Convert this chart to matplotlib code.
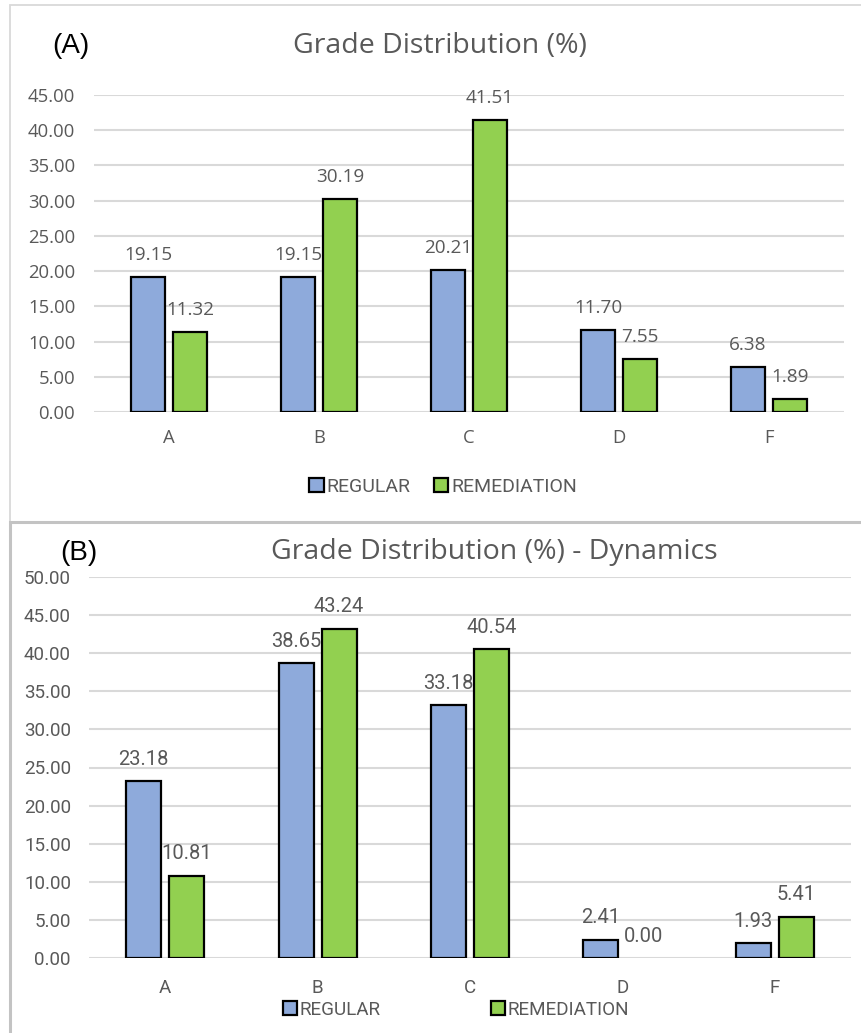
import matplotlib
matplotlib.use("Agg")
import matplotlib.pyplot as plt
from matplotlib import font_manager
from matplotlib.patches import Patch, Rectangle
import numpy as np

grades = ["A", "B", "C", "D", "F"]
regular_all = [19.15, 19.15, 20.21, 11.70, 6.38]
remedial_all = [11.32, 30.19, 41.51, 7.55, 1.89]
regular_dyn = [23.18, 38.65, 33.18, 2.41, 1.93]
remedial_dyn = [10.81, 43.24, 40.54, 0.00, 5.41]

BLUE = "#8eaadb"
GREEN = "#92d050"
GREY_TXT = "#595959"
GRID = "#d9d9d9"

W, H = 861, 1033
installed = {f.name for f in font_manager.fontManager.ttflist}
main_font = "Open Sans" if "Open Sans" in installed else "DejaVu Sans"
narrow_font = "Roboto" if "Roboto" in installed else main_font

fig = plt.figure(figsize=(W / 100, H / 100), dpi=100)
fig.patch.set_facecolor("white")


def box(x0, y0, x1, y1):
    # pixel box (top-left origin) -> figure fraction [left, bottom, width, height]
    return [x0 / W, 1 - y1 / H, (x1 - x0) / W, (y1 - y0) / H]


# panel frames
fig.add_artist(Rectangle((10 / W, 1 - 522 / H), 1.0, 517 / H, transform=fig.transFigure,
                         fill=False, edgecolor="#d9d9d9", linewidth=1.3))
fig.add_artist(Rectangle((10 / W, -0.1), 1.0, 1 - 522 / H + 0.1, transform=fig.transFigure,
                         fill=False, edgecolor="#c3c3c3", linewidth=2.2))


def draw_panel(ax, reg, rem, ymax, width, shift, font, tick_size, label_size):
    x = np.arange(len(grades))
    ax.set_axisbelow(True)
    b1 = ax.bar(x - shift, reg, width, color=BLUE, edgecolor="black", linewidth=1.6)
    b2 = ax.bar(x + shift, rem, width, color=GREEN, edgecolor="black", linewidth=1.6)
    for bars in (b1, b2):
        for bar in bars:
            v = bar.get_height()
            if v == 0:
                bar.set_edgecolor("none")
            ax.annotate(f"{v:.2f}", (bar.get_x() + bar.get_width() / 2, v),
                        xytext=(0, 22), textcoords="offset pixels",
                        ha="center", va="center", color=GREY_TXT,
                        fontsize=label_size, family=font)
    ax.set_xlim(-0.5, len(grades) - 0.5)
    ax.set_ylim(0, ymax)
    ticks = np.arange(0, ymax + 0.1, 5)
    ax.set_yticks(ticks)
    ax.set_yticklabels([f"{t:.2f}" for t in ticks],
                       family=font, fontsize=tick_size, color=GREY_TXT)
    ax.set_xticks(x)
    ax.set_xticklabels(grades, family=font, fontsize=tick_size, color=GREY_TXT)
    ax.yaxis.grid(True, color=GRID, linewidth=1.5)
    for s in ax.spines.values():
        s.set_visible(False)
    ax.tick_params(length=0)
    return b1, b2


# (A) all sections
ax1 = fig.add_axes(box(94, 95, 844, 412))
draw_panel(ax1, regular_all, remedial_all, 45, 0.227, 0.14, main_font, 13.3, 13.6)
ax1.tick_params(axis="y", pad=13.5)
ax1.tick_params(axis="x", pad=12)
fig.text(440 / W, 1 - 46 / H, "Grade Distribution (%)", ha="center", va="center",
         fontsize=20.5, color=GREY_TXT, family=main_font)
fig.text(52 / W, 1 - 46 / H, "(A)", ha="left", va="center", fontsize=20,
         color="black", family="Liberation Sans")
handles = [Patch(facecolor=BLUE, edgecolor="black", linewidth=1.6, label="REGULAR"),
           Patch(facecolor=GREEN, edgecolor="black", linewidth=1.6, label="REMEDIATION")]
fig.legend(handles=handles, loc="center", bbox_to_anchor=(443 / W, 1 - 487 / H),
           ncol=2, frameon=False, handlelength=0.75, handleheight=0.75,
           handletextpad=0.15, columnspacing=1.2,
           prop={"family": narrow_font, "size": 14}, labelcolor=GREY_TXT)

# (B) dynamics sections
ax2 = fig.add_axes(box(89, 577, 851, 958))
draw_panel(ax2, regular_dyn, remedial_dyn, 50, 0.23, 0.141, narrow_font, 13.5, 14.5)
ax2.tick_params(axis="y", pad=13)
ax2.tick_params(axis="x", pad=15)
fig.text(494 / W, 1 - 552 / H, "Grade Distribution (%) - Dynamics", ha="center",
         va="center", fontsize=20.5, color=GREY_TXT, family=main_font)
fig.text(60 / W, 1 - 553 / H, "(B)", ha="left", va="center", fontsize=20,
         color="black", family="Liberation Sans")
fig.legend(handles=handles, loc="center", bbox_to_anchor=(456 / W, 1 - 1010 / H),
           ncol=2, frameon=False, handlelength=0.75, handleheight=0.75,
           handletextpad=0.15, columnspacing=5.8,
           prop={"family": narrow_font, "size": 13.6}, labelcolor=GREY_TXT)

fig.savefig("out.png", dpi=100, facecolor="white")
